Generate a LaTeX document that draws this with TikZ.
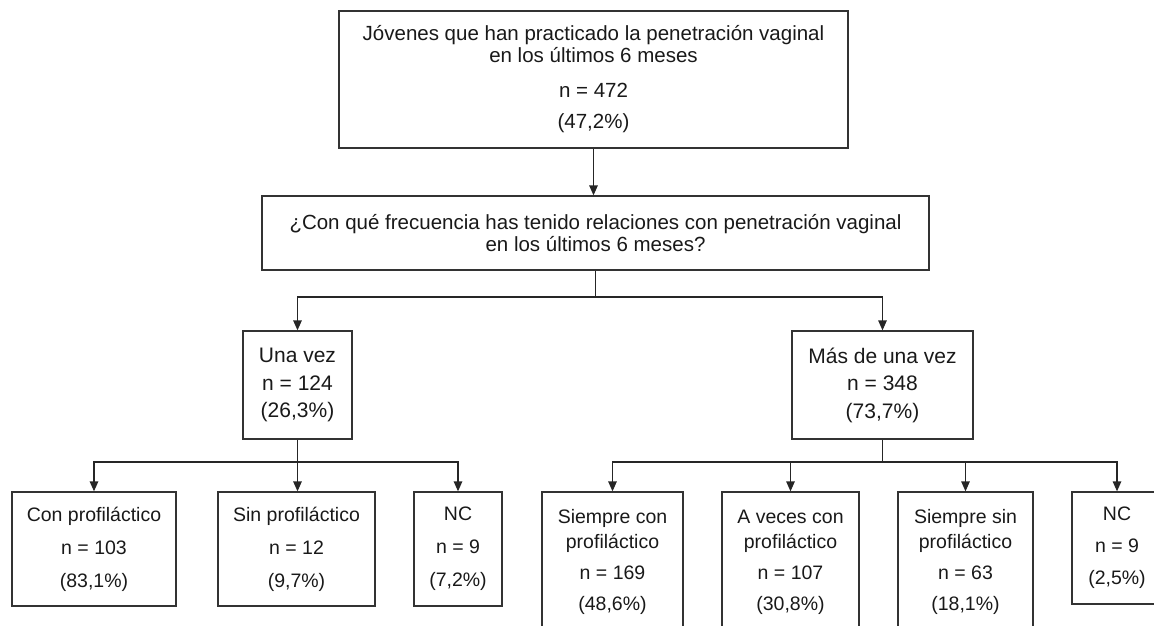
\documentclass[tikz,border=0pt]{standalone}
\usepackage{fontspec}
\setmainfont{Liberation Sans}
\usepackage{tikz}
\usetikzlibrary{arrows.meta}

\begin{document}
\begin{tikzpicture}[
  x=1pt, y=-1pt,
  box/.style={draw=black!80, line width=1.3pt, align=center,
              inner sep=0pt, text=black!90},
  topbox/.style={box, font=\fontsize{20.5}{22}\selectfont},
  midbox/.style={box, font=\fontsize{21}{27.5}\selectfont,
                 minimum height=108pt},
  lowbox/.style={box, font=\fontsize{19.5}{25}\selectfont},
  arr/.style={-{Triangle[length=10pt, width=8.5pt]}, line width=1.3pt, black!85},
  lin/.style={line width=1.3pt, black!85},
]
  \useasboundingbox (0,0) rectangle (1154,625);
  \clip (0,0) rectangle (1154,625);

  % first level
  \node[topbox, minimum width=509pt, minimum height=137pt] (muestra) at (593.5,79.5)
    {J\'ovenes que han practicado la penetraci\'on vaginal\\
     en los \'ultimos 6 meses\\[13pt]
     n = 472\\[9pt]
     (47,2\%)};
  \node[topbox, minimum width=667pt, minimum height=74pt] (pregunta) at (595.5,233)
    {¿Con qu\'e frecuencia has tenido relaciones con penetraci\'on vaginal\\
     en los \'ultimos 6 meses?};

  % second level
  \node[midbox, minimum width=109pt] (unavez) at (297.5,385)
    {Una vez\\n = 124\\(26,3\%)};
  \node[midbox, minimum width=181pt] (masvez) at (882.5,385)
    {M\'as de una vez\\n = 348\\(73,7\%)};

  % third level, una vez
  \node[lowbox, font=\fontsize{19.5}{33}\selectfont,
        minimum width=164pt, minimum height=114pt] (conp) at (94,549)
    {Con profil\'actico\\n = 103\\(83,1\%)};
  \node[lowbox, font=\fontsize{19.5}{33}\selectfont,
        minimum width=157pt, minimum height=114pt] (sinp) at (296.5,549)
    {Sin profil\'actico\\n = 12\\(9,7\%)};
  \node[lowbox, font=\fontsize{19.5}{33}\selectfont,
        minimum width=88pt, minimum height=114pt] (nca) at (458,549)
    {NC\\n = 9\\(7,2\%)};

  % third level, mas de una vez
  \node[lowbox, minimum width=141pt, minimum height=140pt] (siecon) at (612.5,562)
    {Siempre con\\profil\'actico\\[6pt]n = 169\\[6pt](48,6\%)};
  \node[lowbox, minimum width=137pt, minimum height=140pt] (avecon) at (790.5,562)
    {A veces con\\profil\'actico\\[6pt]n = 107\\[6pt](30,8\%)};
  \node[lowbox, minimum width=135pt, minimum height=140pt] (siesin) at (965.5,562)
    {Siempre sin\\profil\'actico\\[6pt]n = 63\\[6pt](18,1\%)};
  \node[lowbox, font=\fontsize{19.5}{32}\selectfont,
        minimum width=90pt, minimum height=112pt] (ncb) at (1117,548)
    {NC\\n = 9\\(2,5\%)};

  \coordinate (j1) at (595.5,297);
  \coordinate (j2) at (297.5,462);
  \coordinate (j3) at (882.5,462);

  \draw[arr] (muestra.south) -- (muestra.south |- pregunta.north);
  \draw[lin] (pregunta.south) -- (j1);
  \draw[arr] (j1) -| (unavez.north);
  \draw[arr] (j1) -| (masvez.north);

  \draw[arr] (unavez.south) -- (unavez.south |- sinp.north);
  \draw[arr] (j2) -| (conp.north);
  \draw[arr] (j2) -| (nca.north);

  \draw[lin] (masvez.south) -- (j3);
  \draw[arr] (j3) -| (siecon.north);
  \draw[arr] (j3) -| (avecon.north);
  \draw[arr] (j3) -| (siesin.north);
  \draw[arr] (j3) -| (ncb.north);
\end{tikzpicture}
\end{document}
